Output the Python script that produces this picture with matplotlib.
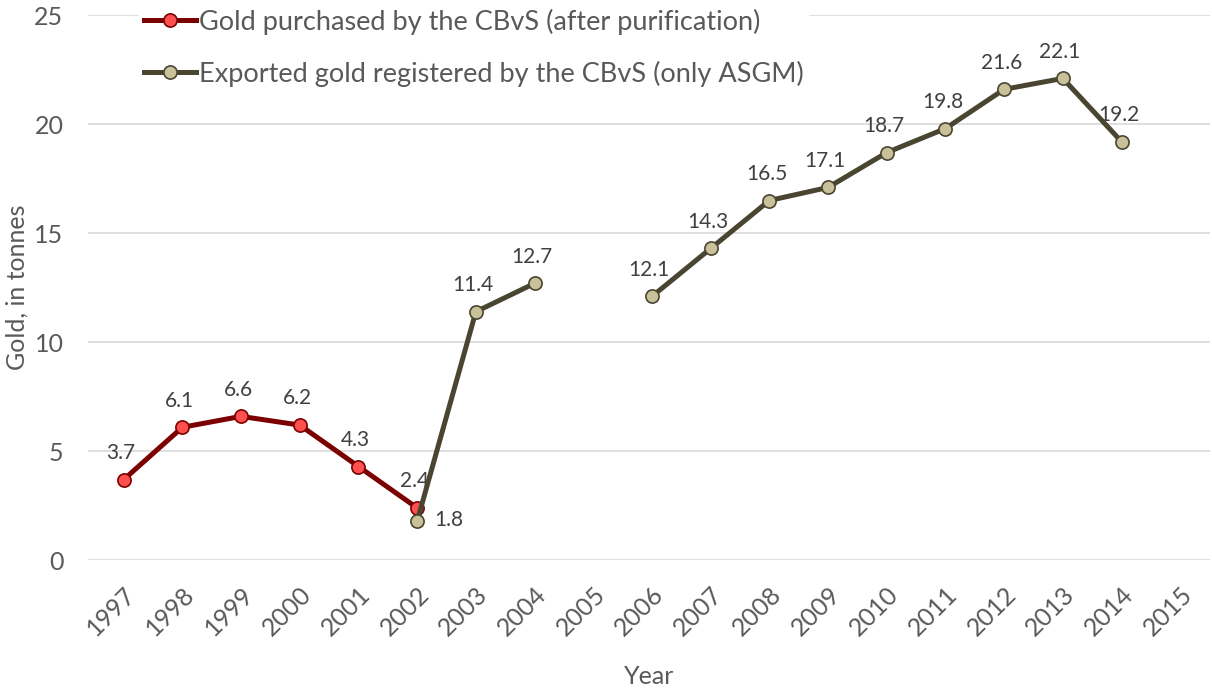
import matplotlib.pyplot as plt
import numpy as np

# categories and values
years = [str(y) for y in range(1997, 2016)]
purchased = [3.7, 6.1, 6.6, 6.2, 4.3, 2.4] + [np.nan] * 13
exported = [np.nan] * 5 + [1.8, 11.4, 12.7, np.nan, 12.1, 14.3, 16.5, 17.1,
                           18.7, 19.8, 21.6, 22.1, 19.2, np.nan]

plt.rcParams['font.family'] = ['Lato', 'DejaVu Sans']
gray = '#595959'

fig = plt.figure(figsize=(12.12, 6.9), dpi=100)
ax = fig.add_axes([0.073, 0.188, 0.925, 0.79])

x = np.arange(len(years))
ax.plot(x, purchased, color='#7B0000', lw=3.6, marker='o', ms=9.5,
        mfc='#FF5050', mec='#7B0000', mew=1.2, zorder=3,
        label='Gold purchased by the CBvS (after purification)')
ax.plot(x, exported, color='#4A4530', lw=3.6, marker='o', ms=9.5,
        mfc='#C9C19A', mec='#4A4530', mew=1.2, zorder=4,
        label='Exported gold registered by the CBvS (only ASGM)')

# data labels
lab_kw = dict(textcoords='offset points', fontsize=15, color='#404040')
for i, v in enumerate(purchased):
    if not np.isnan(v):
        ax.annotate(f'{v:.1f}', (i, v), xytext=(-2, 12), ha='center',
                    va='bottom', zorder=2, **lab_kw)
for i, v in enumerate(exported):
    if np.isnan(v):
        continue
    if i == 5:
        ax.annotate(f'{v:.1f}', (i, v), xytext=(12, 1), ha='left',
                    va='center', **lab_kw)
    else:
        ax.annotate(f'{v:.1f}', (i, v), xytext=(-2, 12), ha='center',
                    va='bottom', **lab_kw)

ax.set_xlim(-0.6, len(years) - 0.5)
ax.set_ylim(0, 25)
ax.set_yticks([0, 5, 10, 15, 20, 25])
ax.set_xticks(x)
ax.set_xticklabels(years, rotation=45, ha='right', rotation_mode='anchor')
ax.tick_params(axis='both', length=0, labelsize=18, colors=gray)
ax.tick_params(axis='x', pad=16)
ax.tick_params(axis='y', pad=18)
ax.grid(axis='y', color='#D9D9D9', lw=1.2, zorder=0)
ax.set_axisbelow(True)
for s in ax.spines.values():
    s.set_visible(False)

ax.set_ylabel('Gold, in tonnes', fontsize=18, color=gray, labelpad=4)
ax.set_xlabel('Year', fontsize=18, color=gray, labelpad=18)

leg = ax.legend(loc='upper left', bbox_to_anchor=(0.045, 1.022), fontsize=19.5,
                frameon=True, framealpha=1, edgecolor='none', facecolor='white',
                labelspacing=0.95, handlelength=1.9, handletextpad=0.1,
                borderpad=0.2, borderaxespad=0)
for t in leg.get_texts():
    t.set_color(gray)

fig.savefig('out.png', dpi=100)
